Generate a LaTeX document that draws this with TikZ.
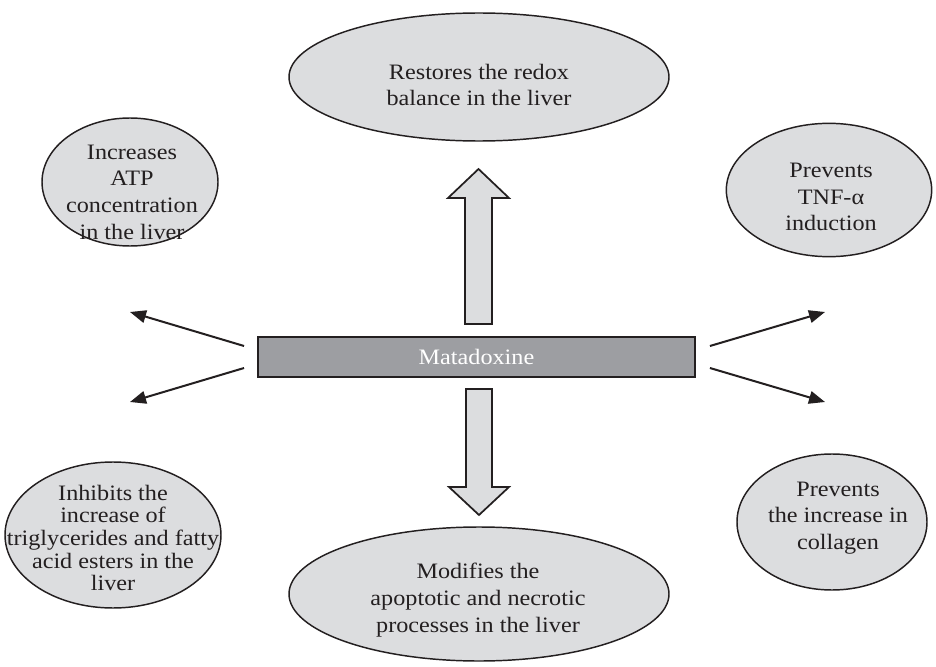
\documentclass[tikz,border=0pt]{standalone}
\usepackage{fontspec}
\setmainfont{Liberation Serif}[FakeStretch=1.1]
\usetikzlibrary{arrows.meta,shapes.geometric,positioning}
\definecolor{cloud}{HTML}{DCDDDF}
\definecolor{slate}{HTML}{9D9EA2}
\definecolor{ink}{HTML}{231F20}
\tikzset{
  effect/.style={ellipse,draw=ink,fill=cloud,line width=1.1pt,inner sep=0pt},
  effecttext/.style={inner sep=0pt,align=center,text=ink,font=\fontsize{16.5}{20}\selectfont},
  drugbox/.style={draw=ink,fill=slate,line width=1.4pt,minimum width=327.75pt,minimum height=30pt,inner sep=0pt,text=white,font=\fontsize{16.5}{20}\selectfont},
  fatarrow/.style={draw=ink,fill=cloud,line width=1.3pt,line join=miter},
  thinarrow/.style={-{Triangle[length=12pt,width=9.5pt]},draw=ink,line width=1.5pt},
}
\begin{document}
\begin{tikzpicture}[x=0.75pt,y=-0.75pt]
  \useasboundingbox[fill=white] (0,0) rectangle (936,667);
  % central box
  \node[drugbox] (mata) at (476.5,357) {Matadoxine};
  % effects
  \node[effect,minimum width=285pt,minimum height=96pt] (redox) at (479,77) {};
  \node[effecttext] (redoxText) at (479,85) {Restores the redox\\balance in the liver};
  \node[effect,minimum width=132pt,minimum height=96pt] (atp) at (130,182) {};
  \node[effecttext] (atpText) at (132,192) {Increases\\ATP\\concentration\\in the liver};
  \node[effect,minimum width=154pt,minimum height=100pt] (tnf) at (829,190) {};
  \node[effecttext] (tnfText) at (831,197) {Prevents\\TNF-α\\induction};
  \node[effect,minimum width=162pt,minimum height=109.5pt] (lipid) at (113,535) {};
  \node[effecttext,font=\fontsize{16.5}{17}\selectfont] (lipidText) at (113,538) {Inhibits the\\increase of\\triglycerides and fatty\\acid esters in the\\liver};
  \node[effect,minimum width=142.5pt,minimum height=102pt] (coll) at (832,522) {};
  \node[effecttext] (collText) at (838,518) {Prevents\\the increase in\\collagen};
  \node[effect,minimum width=285pt,minimum height=100.5pt] (apop) at (479,594) {};
  \node[effecttext] (apopText) at (478,600) {Modifies the\\apoptotic and necrotic\\processes in the liver};
  % big arrows
  \coordinate (upFoot) at (478.5,324);
  \draw[fatarrow] (upFoot) ++(-13.5,0) -- ++(0,-126) -- ++(-17,0) -- ++(30.5,-29)
    -- ++(30.5,29) -- ++(-17,0) -- ++(0,126) -- cycle;
  \coordinate (downTop) at (479,389);
  \draw[fatarrow] (downTop) ++(-13,0) -- ++(0,98) -- ++(-17,0) -- ++(30,28)
    -- ++(30,-28) -- ++(-17,0) -- ++(0,-98) -- cycle;
  % thin arrows
  \coordinate (outTL) at (130,312);
  \coordinate (outBL) at (130,402);
  \coordinate (outTR) at (825,312);
  \coordinate (outBR) at (825,402);
  \draw[thinarrow] ([xshift=-9.75pt,yshift=8.25pt]mata.west) -- (outTL);
  \draw[thinarrow] ([xshift=-9.75pt,yshift=-8.25pt]mata.west) -- (outBL);
  \draw[thinarrow] ([xshift=10.5pt,yshift=8.25pt]mata.east) -- (outTR);
  \draw[thinarrow] ([xshift=10.5pt,yshift=-8.25pt]mata.east) -- (outBR);
\end{tikzpicture}
\end{document}
